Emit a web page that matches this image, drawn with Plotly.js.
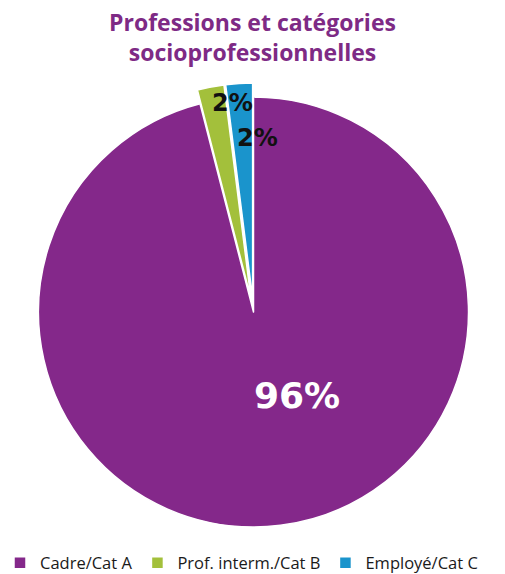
<!DOCTYPE html>
<html>
<head>
<meta charset="utf-8">
<script src="https://cdn.plot.ly/plotly-3.0.1.min.js"></script>
<style>html,body{margin:0;padding:0;background:#fff;}#chart{width:505px;height:574px;}</style>
</head>
<body>
<div id="chart"></div>
<script>
const categories = ["Cadre/Cat A", "Prof. interm./Cat B", "Employé/Cat C"];
const values = [96, 2, 2];
const colors = ["#84288a", "#a3c03b", "#1a94cc"];
const pulls = [0, 0.065, 0.065];

const data = [{
  type: "pie",
  labels: categories,
  values: values,
  sort: false,
  direction: "clockwise",
  rotation: 0,
  pull: pulls,
  textinfo: "none",
  hoverinfo: "label+percent",
  marker: {colors: colors, line: {color: "#ffffff", width: 1.5}},
  showlegend: true
}];

const total = values.reduce((a, b) => a + b, 0);
const annPos = [[0.5855, 0.318], [0.4573, 0.956], [0.507, 0.880]];
const annColor = ["#ffffff", "#111111", "#111111"];
const annSize = [36, 24, 24];
const annotations = values.map((v, i) => ({
  xref: "paper", yref: "paper",
  x: annPos[i][0], y: annPos[i][1],
  text: "<b>" + Math.round(v / total * 100) + "%</b>",
  showarrow: false,
  font: {family: "'DejaVu Sans', sans-serif", size: annSize[i], color: annColor[i]},
  xanchor: "center", yanchor: "middle"
}));

const layout = {
  width: 505, height: 574,
  margin: {l: 2, r: 0, t: 83, b: 33},
  paper_bgcolor: "#ffffff",
  title: {
    text: "<b>Professions et catégories<br>socioprofessionnelles</b>",
    font: {family: "'Open Sans', sans-serif", size: 23, color: "#7e2a85"},
    x: 0.5, xanchor: "center", xref: "container",
    y: 0.946, yanchor: "top", yref: "container"
  },
  legend: {
    orientation: "h",
    xref: "container", yref: "container",
    x: 0, xanchor: "left",
    y: 0.019, yanchor: "middle",
    font: {family: "'Open Sans', sans-serif", size: 16.5, color: "#1a1a1a"},
    traceorder: "normal"
  },
  annotations: annotations
};

Plotly.newPlot("chart", data, layout, {displayModeBar: false, staticPlot: true});
</script>
</body>
</html>
